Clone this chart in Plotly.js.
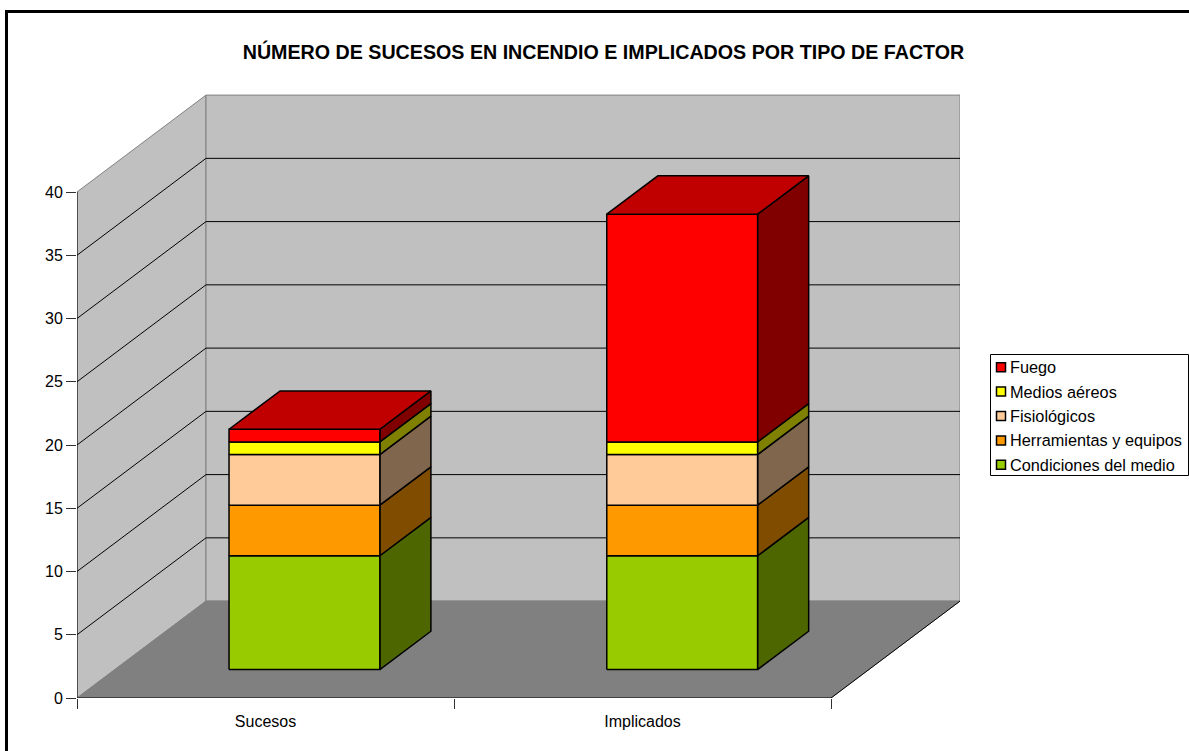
<!DOCTYPE html>
<html>
<head>
<meta charset="utf-8">
<script src="https://cdn.plot.ly/plotly-3.0.1.min.js"></script>
<style>html,body{margin:0;padding:0;background:#fff;overflow:hidden}#chart{width:1189px;height:751px}</style>
</head>
<body>
<div id="chart"></div>
<script>
// ---- data ----
const categories = ['Sucesos', 'Implicados'];
const seriesNames = ['Condiciones del medio', 'Herramientas y equipos', 'Fisiológicos', 'Medios aéreos', 'Fuego'];
const condiciones = [9, 9];
const herramientas = [4, 4];
const fisiologicos = [4, 4];
const mediosAereos = [1, 1];
const fuego = [1, 18];
const seriesValues = [condiciones, herramientas, fisiologicos, mediosAereos, fuego];
const frontColors = ['#99cc00', '#ff9900', '#ffcc99', '#ffff00', '#ff0000'];
const sideColors = ['#4d6600', '#804d00', '#80664d', '#808000', '#800000'];
const topColor = '#c00000';
const yTicks = [0, 5, 10, 15, 20, 25, 30, 35, 40];
const titleText = 'NÚMERO DE SUCESOS EN INCENDIO E IMPLICADOS POR TIPO DE FACTOR';

// ---- page layout in pixels ----
const W = 1189, H = 751, mL = 77, mT = 94, mB = 53, mR = 229;
const pw = W - mL - mR, ph = H - mT - mB;
const px = x => (x - mL) / pw, py = y => (H - mB - y) / ph;

// ---- oblique projection of the 3-D box into the axes ----
const yMax = 40, xLo = -0.5, xHi = 1.5;
const yTop = ph / 12.65;
const depthX = 129 / 377, depthY = 96.9 / 12.65;
const P = (x, d, v) => [x + d * depthX, v + d * depthY];
const halfBar = 0.2, d0 = 0.293, d1 = 0.689;

const traces = [];
function poly(pts, fill, line, width) {
  const closed = pts.concat([pts[0]]);
  traces.push({
    x: closed.map(p => p[0]), y: closed.map(p => p[1]),
    mode: 'lines', fill: 'toself', fillcolor: fill,
    line: {color: line, width: width === undefined ? 1 : width},
    hoverinfo: 'skip', showlegend: false
  });
}
function seg(a, b, color, width) {
  traces.push({
    x: [a[0], b[0]], y: [a[1], b[1]], mode: 'lines',
    line: {color: color, width: width || 1}, hoverinfo: 'skip', showlegend: false
  });
}
const wallLine = '#808080';
// walls and floor
poly([P(xLo,0,0), P(xLo,1,0), P(xLo,1,yMax), P(xLo,0,yMax)], '#c0c0c0', wallLine);
poly([P(xLo,1,0), P(xHi,1,0), P(xHi,1,yMax), P(xLo,1,yMax)], '#c0c0c0', wallLine);
poly([P(xLo,0,0), P(xHi,0,0), P(xHi,1,0), P(xLo,1,0)], '#808080', wallLine);
// gridlines
yTicks.filter(v => v > 0 && v < yMax).forEach(v => {
  seg(P(xLo,0,v), P(xLo,1,v), '#000');
  seg(P(xLo,1,v), P(xHi,1,v), '#000');
});
// floor front/right edges and axes
seg(P(xHi,0,0), P(xHi,1,0), '#000');
seg(P(xLo,0,0), P(xHi,0,0), '#000', 1.2);
seg(P(xLo,0,0), P(xLo,0,yMax), '#000');

// stacked bars
categories.forEach((c, i) => {
  let base = 0;
  const centre = i * 1.002 + 0.003;
  const L = centre - halfBar, R = centre + halfBar;
  seriesValues.forEach((vals, s) => {
    const top = base + vals[i];
    poly([P(R,d0,base), P(R,d1,base), P(R,d1,top), P(R,d0,top)], sideColors[s], '#000', 1.5);
    poly([P(L,d0,base), P(R,d0,base), P(R,d0,top), P(L,d0,top)], frontColors[s], '#000', 1.5);
    base = top;
  });
  poly([P(L,d0,base), P(R,d0,base), P(R,d1,base), P(L,d1,base)], topColor, '#000', 1.5);
});

const shapes = [
  {type:'line', xref:'paper', yref:'paper', x0:px(6.5), x1:px(6.5), y0:py(760), y1:py(11.5), line:{color:'#000', width:3}},
  {type:'line', xref:'paper', yref:'paper', x0:px(5), x1:px(1195), y0:py(11.5), y1:py(11.5), line:{color:'#000', width:3}},
  {type:'rect', xref:'paper', yref:'paper', x0:px(990.5), x1:px(1188.5), y0:py(475.5), y1:py(354.5), fillcolor:'#fff', line:{color:'#000', width:1}}
];
const annotations = [];
const rowStep = 24.4, rowFirst = 367.2;
seriesNames.slice().reverse().forEach((name, k) => {
  const s = seriesNames.length - 1 - k;
  const yc = rowFirst + k * rowStep;
  shapes.push({type:'rect', xref:'paper', yref:'paper', x0:px(996.5), x1:px(1005.5), y0:py(yc+4.5), y1:py(yc-4.5),
    fillcolor:frontColors[s], line:{color:'#000', width:1.5}});
  annotations.push({xref:'paper', yref:'paper', x:px(1009), y:py(yc), xanchor:'left', yanchor:'middle', showarrow:false,
    text:name, borderpad:0, font:{family:'Liberation Sans, Arial, sans-serif', size:16.3, color:'#000'}});
});

const font = {family:'Liberation Sans, Arial, sans-serif', size:16, color:'#000'};
Plotly.newPlot('chart', traces, {
  width: W, height: H,
  margin: {l:mL, r:mR, t:mT, b:mB, pad:0},
  paper_bgcolor:'#fff', plot_bgcolor:'#fff',
  showlegend:false, font,
  title:{text:titleText, x:603.5/W, xanchor:'center', y:1-52/H, yanchor:'middle',
    font:{family:'Liberation Sans, Arial, sans-serif', size:19.66, color:'#000', weight:700}},
  xaxis:{range:[xLo, xHi + depthX], fixedrange:true, showgrid:false, zeroline:false, showline:false,
    tickmode:'array', tickvals:categories.map((c,i)=>i), ticktext:categories,
    ticks:'outside', ticklen:9, tickcolor:'rgba(0,0,0,0)', tickfont:{family:font.family, size:16, color:'#000'},
    minor:{tickmode:'array', tickvals:[xLo, 0.5, xHi], ticks:'outside', ticklen:10, tickcolor:'#303030', tickwidth:1, showgrid:false}},
  yaxis:{range:[0, yTop], fixedrange:true, showgrid:false, zeroline:false, showline:false,
    tickmode:'array', tickvals:yTicks, ticks:'outside', ticklen:10, tickcolor:'#303030', tickwidth:1,
    tickfont:{family:font.family, size:16, color:'#000'}},
  shapes, annotations
}, {displayModeBar:false, staticPlot:true});
</script>
</body>
</html>
